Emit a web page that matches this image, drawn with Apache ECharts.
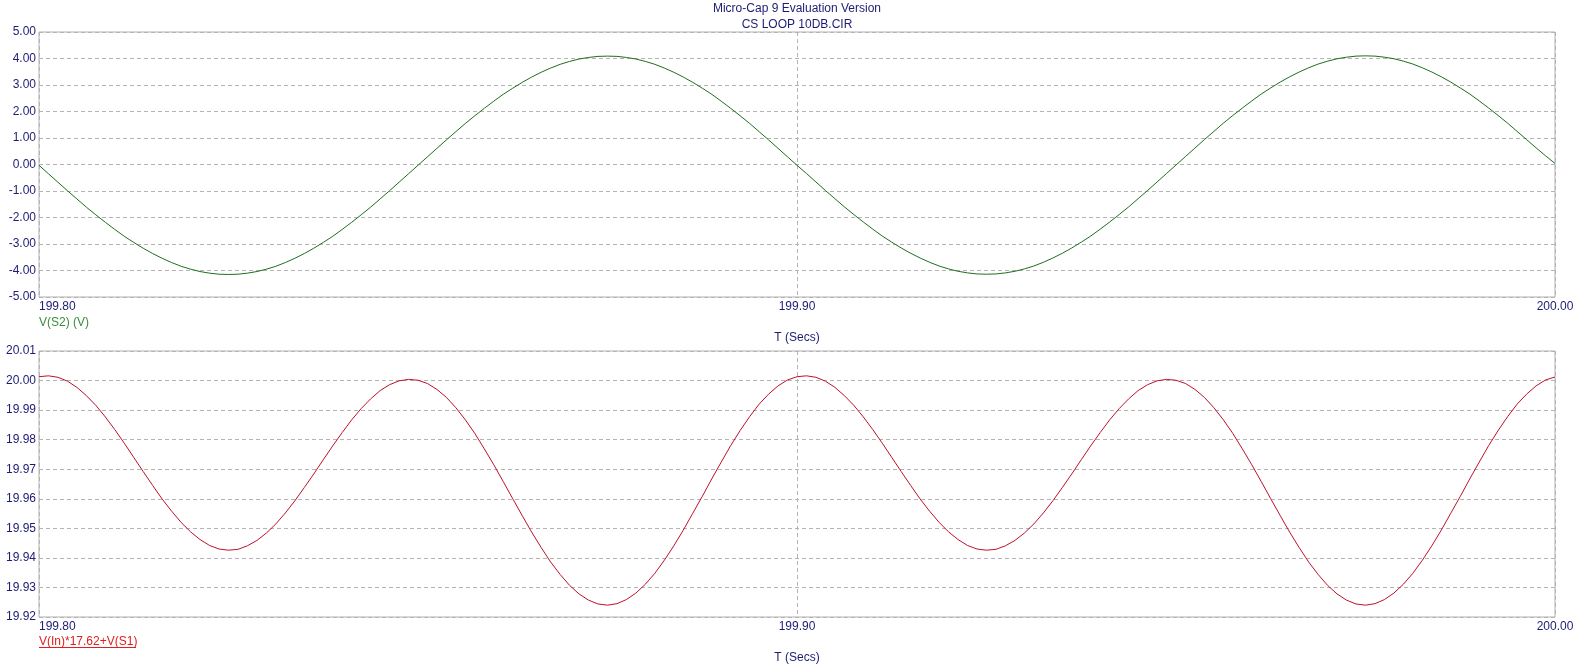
<!DOCTYPE html>
<html>
<head>
<meta charset="utf-8">
<script src="https://cdn.jsdelivr.net/npm/echarts@6/dist/echarts.min.js"></script>
<style>
html,body{margin:0;padding:0;background:#fff;}
#c{width:1587px;height:669px;}
</style>
</head>
<body>
<div id="c"></div>
<script>
const titleLines = ['Micro-Cap 9 Evaluation Version', 'CS LOOP 10DB.CIR'];
const xLabel = 'T (Secs)';
const topSeriesName = 'V(S2) (V)';
const bottomSeriesName = 'V(In)*17.62+V(S1)';

const times = [
  199.80000,199.80125,199.80250,199.80375,199.80500,199.80625,199.80750,199.80875,
  199.81000,199.81125,199.81250,199.81375,199.81500,199.81625,199.81750,199.81875,
  199.82000,199.82125,199.82250,199.82375,199.82500,199.82625,199.82750,199.82875,
  199.83000,199.83125,199.83250,199.83375,199.83500,199.83625,199.83750,199.83875,
  199.84000,199.84125,199.84250,199.84375,199.84500,199.84625,199.84750,199.84875,
  199.85000,199.85125,199.85250,199.85375,199.85500,199.85625,199.85750,199.85875,
  199.86000,199.86125,199.86250,199.86375,199.86500,199.86625,199.86750,199.86875,
  199.87000,199.87125,199.87250,199.87375,199.87500,199.87625,199.87750,199.87875,
  199.88000,199.88125,199.88250,199.88375,199.88500,199.88625,199.88750,199.88875,
  199.89000,199.89125,199.89250,199.89375,199.89500,199.89625,199.89750,199.89875,
  199.90000,199.90125,199.90250,199.90375,199.90500,199.90625,199.90750,199.90875,
  199.91000,199.91125,199.91250,199.91375,199.91500,199.91625,199.91750,199.91875,
  199.92000,199.92125,199.92250,199.92375,199.92500,199.92625,199.92750,199.92875,
  199.93000,199.93125,199.93250,199.93375,199.93500,199.93625,199.93750,199.93875,
  199.94000,199.94125,199.94250,199.94375,199.94500,199.94625,199.94750,199.94875,
  199.95000,199.95125,199.95250,199.95375,199.95500,199.95625,199.95750,199.95875,
  199.96000,199.96125,199.96250,199.96375,199.96500,199.96625,199.96750,199.96875,
  199.97000,199.97125,199.97250,199.97375,199.97500,199.97625,199.97750,199.97875,
  199.98000,199.98125,199.98250,199.98375,199.98500,199.98625,199.98750,199.98875,
  199.99000,199.99125,199.99250,199.99375,199.99500,199.99625,199.99750,199.99875,
  200.00000
];

const vS2 = [
  -0.03,-0.35,-0.67,-0.99,-1.30,-1.61,-1.90,-2.18,-2.45,-2.71,
  -2.94,-3.16,-3.36,-3.54,-3.70,-3.84,-3.95,-4.04,-4.10,-4.14,
  -4.15,-4.14,-4.10,-4.04,-3.95,-3.84,-3.70,-3.54,-3.36,-3.16,
  -2.94,-2.71,-2.45,-2.18,-1.90,-1.61,-1.30,-0.99,-0.67,-0.35,
  -0.03,0.29,0.61,0.93,1.24,1.55,1.84,2.12,2.39,2.65,
  2.88,3.10,3.30,3.48,3.64,3.78,3.89,3.98,4.04,4.08,
  4.09,4.08,4.04,3.98,3.89,3.78,3.64,3.48,3.30,3.10,
  2.88,2.65,2.39,2.12,1.84,1.55,1.24,0.93,0.61,0.29,
  -0.03,-0.34,-0.66,-0.98,-1.29,-1.60,-1.89,-2.17,-2.44,-2.70,
  -2.93,-3.15,-3.35,-3.53,-3.69,-3.83,-3.94,-4.03,-4.09,-4.13,
  -4.14,-4.13,-4.09,-4.03,-3.94,-3.83,-3.69,-3.53,-3.35,-3.15,
  -2.93,-2.70,-2.44,-2.17,-1.89,-1.60,-1.29,-0.98,-0.66,-0.34,
  -0.02,0.30,0.62,0.94,1.25,1.56,1.85,2.13,2.40,2.66,
  2.89,3.11,3.31,3.49,3.65,3.79,3.90,3.99,4.05,4.09,
  4.10,4.09,4.05,3.99,3.90,3.79,3.65,3.49,3.31,3.11,
  2.89,2.66,2.40,2.13,1.85,1.56,1.25,0.94,0.63,0.33,
  0.04
];

const vOut = [
  20.0013,20.0016,20.0011,19.9998,19.9977,19.9949,19.9916,19.9877,19.9834,19.9788,
  19.9740,19.9692,19.9645,19.9599,19.9558,19.9520,19.9488,19.9462,19.9442,19.9430,
  19.9426,19.9429,19.9441,19.9459,19.9484,19.9515,19.9552,19.9593,19.9638,19.9684,
  19.9732,19.9779,19.9824,19.9867,19.9905,19.9938,19.9966,19.9986,19.9999,20.0004,
  20.0001,19.9990,19.9970,19.9943,19.9908,19.9867,19.9821,19.9769,19.9715,19.9658,
  19.9600,19.9543,19.9487,19.9435,19.9386,19.9344,19.9307,19.9278,19.9257,19.9244,
  19.9240,19.9245,19.9259,19.9281,19.9311,19.9348,19.9392,19.9441,19.9494,19.9551,
  19.9608,19.9667,19.9724,19.9780,19.9831,19.9878,19.9920,19.9954,19.9982,20.0002,
  20.0013,20.0016,20.0011,19.9998,19.9977,19.9949,19.9916,19.9877,19.9834,19.9788,
  19.9740,19.9692,19.9645,19.9599,19.9558,19.9520,19.9488,19.9462,19.9442,19.9430,
  19.9426,19.9429,19.9441,19.9459,19.9484,19.9515,19.9552,19.9593,19.9638,19.9684,
  19.9732,19.9779,19.9824,19.9867,19.9905,19.9938,19.9966,19.9986,19.9999,20.0004,
  20.0001,19.9990,19.9970,19.9943,19.9908,19.9867,19.9821,19.9769,19.9715,19.9658,
  19.9600,19.9543,19.9487,19.9435,19.9386,19.9344,19.9307,19.9278,19.9257,19.9244,
  19.9240,19.9245,19.9259,19.9281,19.9311,19.9348,19.9392,19.9441,19.9494,19.9551,
  19.9608,19.9667,19.9724,19.9780,19.9831,19.9878,19.9920,19.9954,19.9982,20.0002,
  20.0012
];

const navy = '#1c1c74';
const gridGray = '#b4b4b4';
const font = 'Arial, "Liberation Sans", sans-serif';

function xAxisCfg(gi) {
  return {
    type: 'value', gridIndex: gi, min: 199.8, max: 200.0, interval: 0.1,
    axisLine: {show: false}, axisTick: {show: false},
    axisLabel: {
      color: navy, fontFamily: font, fontSize: 12, margin: 4,
      showMinLabel: true, showMaxLabel: true,
      alignMinLabel: 'left', alignMaxLabel: 'center',
      formatter: v => v.toFixed(2)
    },
    splitLine: {show: true, lineStyle: {color: gridGray, type: [4, 3], width: 1}}
  };
}
function yAxisCfg(gi, min, max, interval) {
  return {
    type: 'value', gridIndex: gi, min, max, interval,
    axisLine: {show: false}, axisTick: {show: false},
    axisLabel: {
      color: navy, fontFamily: font, fontSize: 12, margin: 3,
      showMinLabel: true, showMaxLabel: true,
      formatter: v => v.toFixed(2)
    },
    splitLine: {show: true, lineStyle: {color: gridGray, type: [4, 3], width: 1}}
  };
}
function txt(text, left, top, color, align) {
  return {text, left, top, padding: 0, textAlign: align || 'left',
    textStyle: {color, fontFamily: font, fontSize: 12, fontWeight: 'normal'}};
}

const chart = echarts.init(document.getElementById('c'), null, {renderer: 'canvas'});
chart.setOption({
  animation: false,
  backgroundColor: '#ffffff',
  title: [
    txt(titleLines[0], 797, 3, navy, 'center'),
    txt(titleLines[1], 797, 19, navy, 'center'),
    txt(topSeriesName, 39, 317, '#3c8c3c'),
    txt(xLabel, 797, 332, navy, 'center'),
    txt(bottomSeriesName, 39, 636, '#e02020'),
    txt(xLabel, 797, 652, navy, 'center')
  ],
  graphic: [
    {type: 'line', shape: {x1: 39, y1: 647.5, x2: 136, y2: 647.5},
     style: {stroke: '#e02020', lineWidth: 1}}
  ],
  grid: [
    {left: 39, top: 32, right: 32, height: 265, show: true, borderColor: '#b0b0b0', borderWidth: 1},
    {left: 39, top: 351, right: 32, height: 266, show: true, borderColor: '#b0b0b0', borderWidth: 1}
  ],
  xAxis: [xAxisCfg(0), xAxisCfg(1)],
  yAxis: [yAxisCfg(0, -5, 5, 1), yAxisCfg(1, 19.92, 20.01, 0.01)],
  series: [
    {type: 'line', name: topSeriesName, xAxisIndex: 0, yAxisIndex: 0,
     data: times.map((t, i) => [t, vS2[i]]), showSymbol: false, smooth: false,
     lineStyle: {color: '#1e6e1e', width: 1}},
    {type: 'line', name: bottomSeriesName, xAxisIndex: 1, yAxisIndex: 1,
     data: times.map((t, i) => [t, vOut[i]]), showSymbol: false, smooth: false,
     lineStyle: {color: '#c0102a', width: 1}}
  ]
});
</script>
</body>
</html>
